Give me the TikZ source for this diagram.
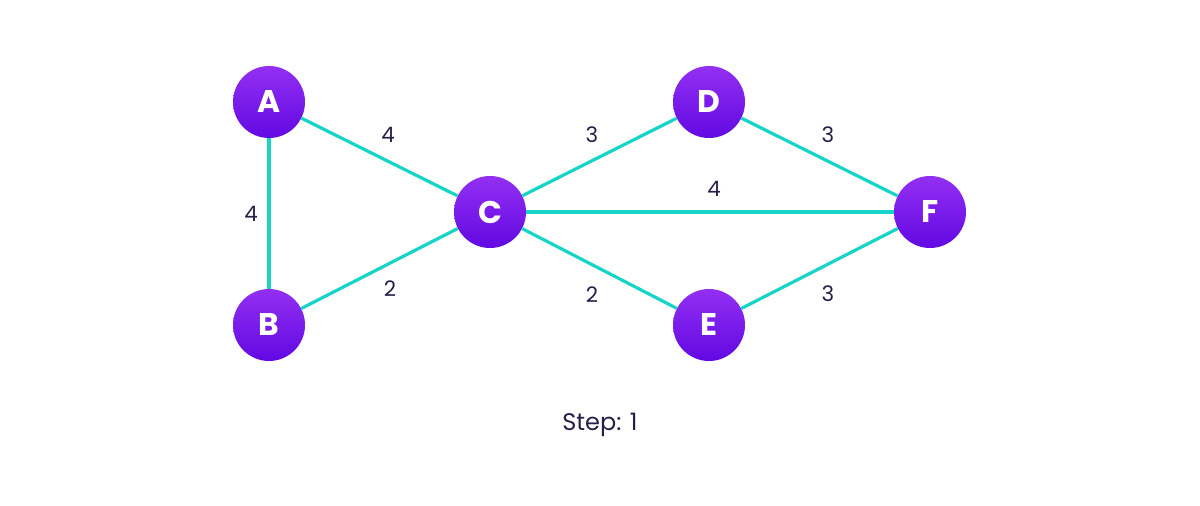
\documentclass[tikz,border=0pt]{standalone}
\usepackage{fontspec}
\setmainfont{Poppins}
\definecolor{edgec}{RGB}{22,212,200}
\definecolor{topc}{RGB}{146,48,242}
\definecolor{botc}{RGB}{98,8,226}
\definecolor{labc}{RGB}{36,32,74}
\begin{document}
\begin{tikzpicture}[x=0.75pt,y=-0.75pt,
  vert/.style={circle,minimum size=54pt,inner sep=0pt,top color=topc,bottom color=botc,draw=none,text=white,font=\fontsize{23.5}{23.5}\selectfont\bfseries},
  edge/.style={draw=edgec,line width=2.4pt},
  wlab/.style={text=labc,font=\fontsize{16}{16}\selectfont}]
\useasboundingbox (0,0) rectangle (1200,506);
\node[vert] (A) at (269,102) {A};
\node[vert] (B) at (269,325) {B};
\node[vert] (C) at (490,212) {C};
\node[vert] (D) at (709,102) {D};
\node[vert] (E) at (709,325) {E};
\node[vert] (F) at (930,212) {F};
\path[edge] (A) -- (B);
\path[edge] (A) -- (C);
\path[edge] (B) -- (C);
\path[edge] (C) -- (D);
\path[edge] (C) -- (E);
\path[edge] (C) -- (F);
\path[edge] (D) -- (F);
\path[edge] (E) -- (F);
\node[wlab] (wAB) at (251,214) {4};
\node[wlab] (wAC) at (388,135) {4};
\node[wlab] (wBC) at (390,289) {2};
\node[wlab] (wCD) at (592,135) {3};
\node[wlab] (wCE) at (592,295) {2};
\node[wlab] (wCF) at (714,189) {4};
\node[wlab] (wDF) at (828,135) {3};
\node[wlab] (wEF) at (828,294) {3};
\node[text=labc,font=\fontsize{18}{18}\selectfont,anchor=base] (step) at (600,430) {Step: 1};
\end{tikzpicture}
\end{document}
